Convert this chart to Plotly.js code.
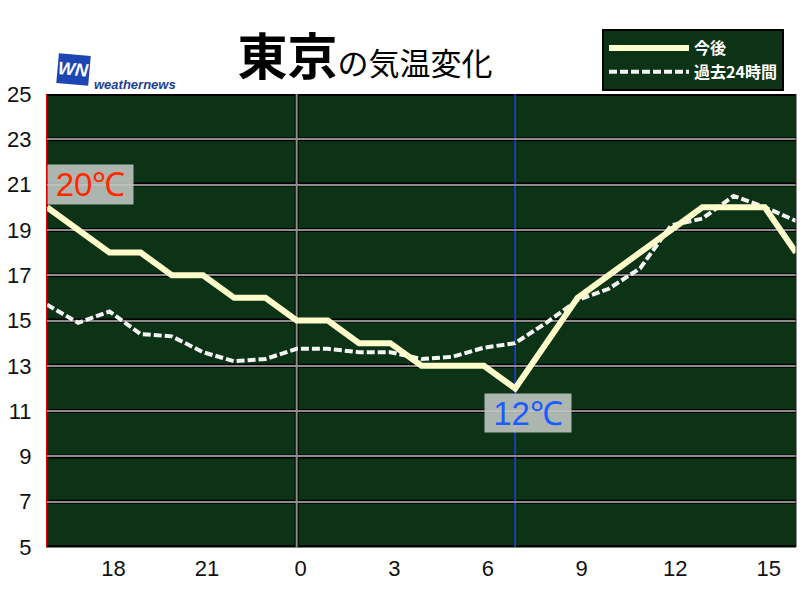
<!DOCTYPE html>
<html>
<head>
<meta charset="utf-8">
<script src="https://cdn.plot.ly/plotly-3.0.1.min.js"></script>
<style>html,body{margin:0;padding:0;background:#fff;}#chart{width:800px;height:600px;}</style>
</head>
<body>
<div id="chart"></div>
<script>
// Hours relative to midnight (negative = previous day)
const hours = [-8,-7,-6,-5,-4,-3,-2,-1,0,1,2,3,4,5,6,7,8,9,10,11,12,13,14,15,16];
// 今後 (forecast) temperatures
const forecast = [20,19,18,18,17,17,16,16,15,15,14,14,13,13,13,12,14,16,17,18,19,20,20,20,18];
// 過去24時間 (past 24 hours) temperatures
const past = [15.7,14.9,15.4,14.4,14.3,13.6,13.2,13.3,13.75,13.75,13.6,13.6,13.3,13.4,13.8,14.0,14.9,15.9,16.4,17.3,19.2,19.5,20.5,20.0,19.4];
const tickHours = [-6,-3,0,3,6,9,12,15];
const tickLabels = ['18','21','0','3','6','9','12','15'];
const yTicks = [5,7,9,11,13,15,17,19,21,23,25];
const nowHour = 7;
const midnight = 0;
const seriesNames = ['今後','過去24時間'];

const L = 47, R = 796, T = 94, B = 547;
const px = x => (x - L) / (R - L);
const py = y => (B - y) / (B - T);

const jp = '"Noto Sans CJK JP", "Noto Sans", sans-serif';
const lat = '"Liberation Sans", Arial, sans-serif';

const startVal = forecast[0];
const minVal = Math.min(...forecast);
const minHour = hours[forecast.indexOf(minVal)];

const data = [
  {x: hours, y: past, name: seriesNames[1], mode: 'lines', type: 'scatter',
   line: {color: '#f4f4f4', width: 4, dash: '8px,3px'}, hoverinfo: 'skip'},
  {x: hours, y: forecast, name: seriesNames[0], mode: 'lines', type: 'scatter',
   line: {color: '#fffccc', width: 6}, hoverinfo: 'skip'}
];

const gridEdges = yTicks.map(v => ({
  type: 'line', xref: 'paper', yref: 'y', x0: 0, x1: 1, y0: v, y1: v,
  line: {color: '#000000', width: 4}, layer: 'below'
}));

const layout = {
  width: 800, height: 600,
  margin: {l: L, r: 800 - R, t: T, b: 600 - B, pad: 0},
  paper_bgcolor: '#ffffff',
  plot_bgcolor: '#0c3316',
  showlegend: true,
  legend: {
    x: px(602), y: py(29), xanchor: 'left', yanchor: 'top',
    bgcolor: '#0c3316', bordercolor: '#000000', borderwidth: 2,
    font: {family: jp, size: 16, color: '#ffffff', weight: 'bold'},
    traceorder: 'reversed', itemwidth: 80, tracegroupgap: 0
  },
  title: {
    text: '<b>東京</b><span style="font-size:31px">の気温変化</span>',
    font: {family: jp, size: 50, color: '#000000'},
    x: 365/800, xanchor: 'center', xref: 'container',
    y: 1 - 40/600, yanchor: 'top', yref: 'container'
  },
  xaxis: {
    range: [hours[0], hours[hours.length-1]],
    tickvals: tickHours, ticktext: tickLabels,
    showgrid: false, zeroline: false, ticks: '',
    tickfont: {family: lat, size: 22, color: '#111'},
    ticklabelshift: 4, ticklabelstandoff: 2,
    showline: true, linecolor: '#6a8a6a', linewidth: 1, mirror: false
  },
  yaxis: {
    range: [5, 25], tickvals: yTicks,
    showgrid: true, gridcolor: '#8c8c8c', gridwidth: 2,
    zeroline: false, ticks: '',
    tickfont: {family: lat, size: 22, color: '#111'},
    ticklabelstandoff: 10,
    showline: true, linecolor: '#e00000', linewidth: 1
  },
  shapes: gridEdges.concat([
    {type: 'line', xref: 'x', yref: 'paper', x0: midnight, x1: midnight, y0: 0, y1: 1,
     line: {color: '#000000', width: 4}, layer: 'below'},
    {type: 'line', xref: 'x', yref: 'paper', x0: midnight, x1: midnight, y0: 0, y1: 1,
     line: {color: '#8c8c8c', width: 2}, layer: 'below'},
    {type: 'line', xref: 'x', yref: 'paper', x0: nowHour, x1: nowHour, y0: 0, y1: 1,
     line: {color: '#1a3cff', width: 1.5}, layer: 'below'},
    {type: 'line', xref: 'paper', yref: 'paper', x0: 1, x1: 1, y0: 0, y1: 1,
     line: {color: '#222', width: 1}}
  ]),
  annotations: [
    {x: hours[0], y: startVal, xref: 'x', yref: 'y', xanchor: 'left', yanchor: 'bottom',
     yshift: 2, showarrow: false,
     text: startVal + '℃', font: {family: lat, size: 33, color: '#ff2a00'},
     bgcolor: 'rgba(196,200,196,0.88)', borderpad: 0, width: 85, height: 39, align: 'center'},
    {x: minHour, y: minVal, xref: 'x', yref: 'y', xanchor: 'center', yanchor: 'top',
     xshift: 13, yshift: -5, showarrow: false,
     text: minVal + '℃', font: {family: lat, size: 33, color: '#1a5cff'},
     bgcolor: 'rgba(196,200,196,0.88)', borderpad: 0, width: 86, height: 38, align: 'center'},
    {x: px(56), y: py(53), xref: 'paper', yref: 'paper', xanchor: 'left', yanchor: 'top',
     showarrow: false, textangle: 5,
     text: '<b><i>WN</i></b>', font: {family: lat, size: 18, color: '#ffffff'},
     bgcolor: '#1d46b4', borderpad: 0, width: 31, height: 29, align: 'center'},
    {x: px(92), y: py(75), xref: 'paper', yref: 'paper', xanchor: 'left', showarrow: false,
     text: '<b><i>weathernews</i></b>', font: {family: lat, size: 13, color: '#1c3f96'}}
  ]
};

Plotly.newPlot('chart', data, layout, {displayModeBar: false, staticPlot: true});
</script>
</body>
</html>
